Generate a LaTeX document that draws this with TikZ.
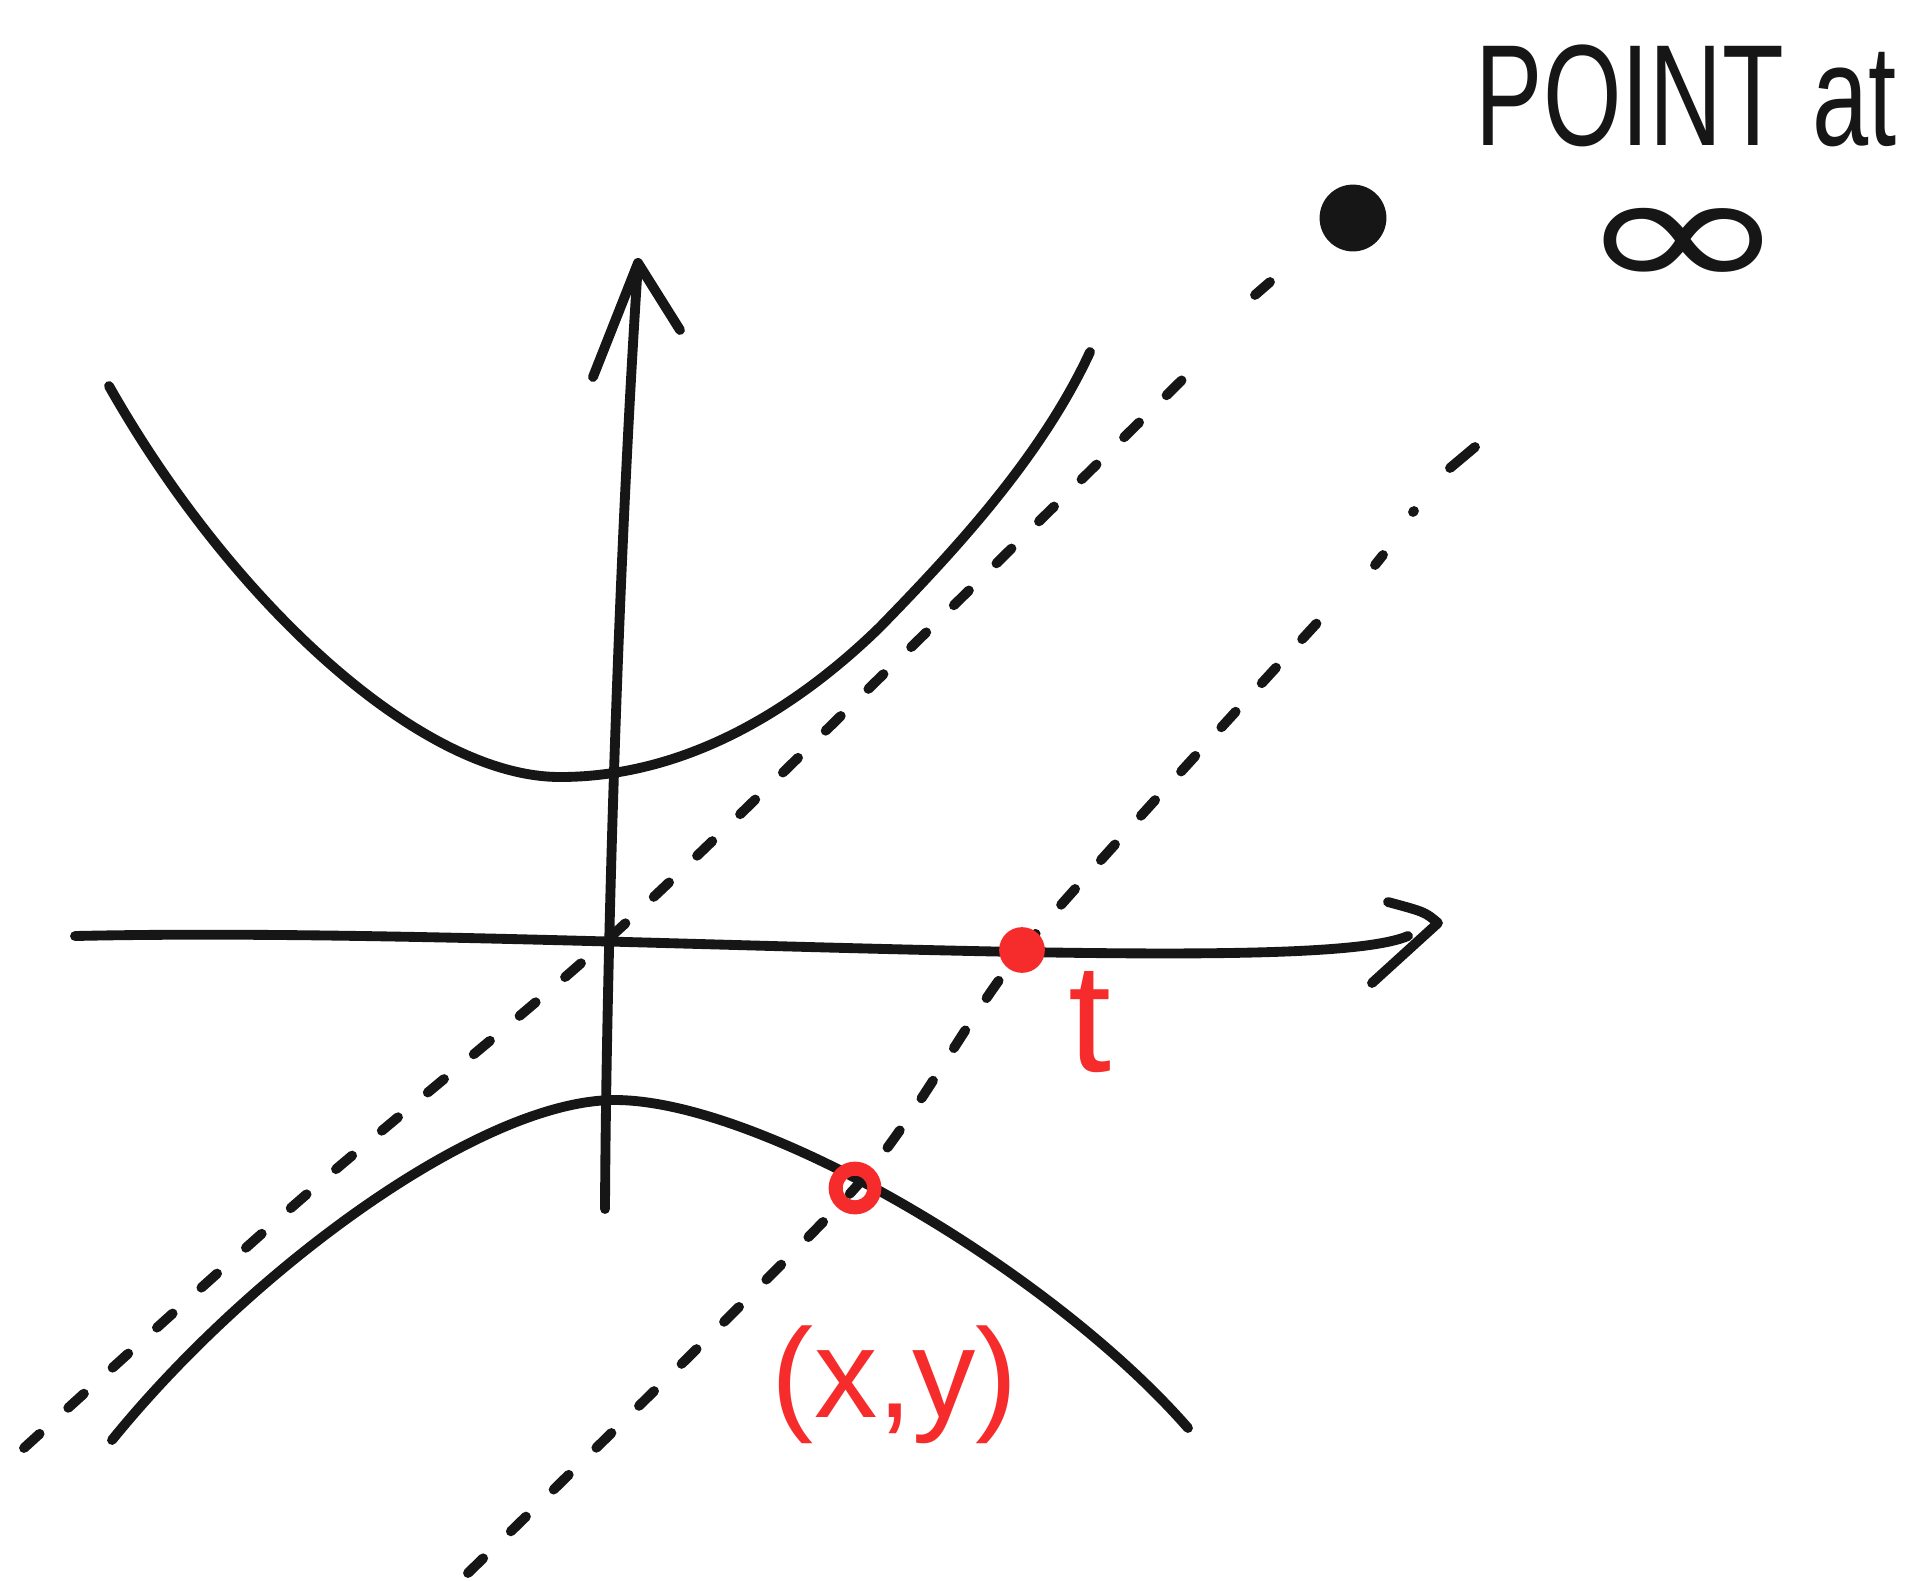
\documentclass[tikz,border=0pt]{standalone}
\usepackage{fontspec}
\setmainfont{Liberation Sans}
\newfontfamily\djv{DejaVu Sans}
\definecolor{ink}{RGB}{22,22,22}
\definecolor{pen}{RGB}{246,44,44}
\begin{document}
\begin{tikzpicture}[x=0.01cm,y=-0.01cm,
  stroke/.style={ink,line width=2.8pt,line cap=round,line join=round},
  dashline/.style={stroke,dash pattern=on 6pt off 11pt},
  lbl/.style={inner sep=0pt,anchor=center}]
\useasboundingbox[fill=white] (0,0) rectangle (1905,1581);
% named points
\coordinate (O) at (606,941);
\coordinate (ytip) at (638,263);
\coordinate (xtip) at (1438,923);
\coordinate (ybot) at (605,1209);
\coordinate (xleft) at (75,936);
% axes
\draw[stroke] (ybot) .. controls (606,1000) and (616,600) .. (ytip);
\draw[stroke] (593,377) -- (ytip) -- (680,330);
\draw[stroke] (xleft) .. controls (350,930) and (700,946) .. (1021,952) .. controls (1250,956) and (1370,952) .. (1408,936);
\draw[stroke] (1388,902) .. controls (1425,912) .. (xtip) -- (1372,983);
% hyperbola branches
\draw[stroke] (109,386) .. controls (230,600) and (420,777) .. (560,777)
  .. controls (690,777) and (800,705) .. (880,627)
  .. controls (950,555) and (1040,460) .. (1090,352);
\draw[stroke] (112,1440) .. controls (250,1270) and (480,1100) .. (615,1100) .. controls (760,1100) and (1050,1270) .. (1188,1428);
% asymptote through origin, towards the point at infinity
\node[circle,fill=ink,inner sep=0pt,minimum size=19pt] (inf) at (1353,218) {};
\draw[dashline] plot[smooth] coordinates {(24,1448) (300,1200) (O) (900,658) (1185,377)};
\draw[stroke] (1255,295) -- (1270,282);
% parallel line through (x,y) and t
\draw[dashline] plot[smooth,tension=0.4] coordinates {(468,1573) (855,1188) (1022,950) (1340,598)};
\draw[stroke] (1375,565) -- (1383,555);
\draw[stroke] (1413,512) -- (1414,511);
\draw[stroke] (1450,468) -- (1475,447);
% red points
\node[circle,fill=pen,inner sep=0pt,minimum size=13pt] (t) at (1022,950) {};
\node[circle,draw=pen,line width=4pt,inner sep=0pt,minimum size=11pt] (xy) at (855,1188) {};
% labels
\node[lbl,text=pen,font=\fontsize{44}{44}\selectfont] (tlab) at (1090,1022) {t};
\node[lbl,text=pen,font=\fontsize{36}{36}\selectfont] (xylab) at (895,1385) {(x,y)};
\node[lbl,text=ink,font=\fontsize{41}{41}\selectfont] (pt) at (1686,96) {\scalebox{0.7}[1]{POINT at}};
\node[lbl,text=ink,font=\djv\fontsize{54}{54}\selectfont] (infsym) at (1683,250) {\scalebox{1.35}[0.9]{∞}};
\end{tikzpicture}
\end{document}
